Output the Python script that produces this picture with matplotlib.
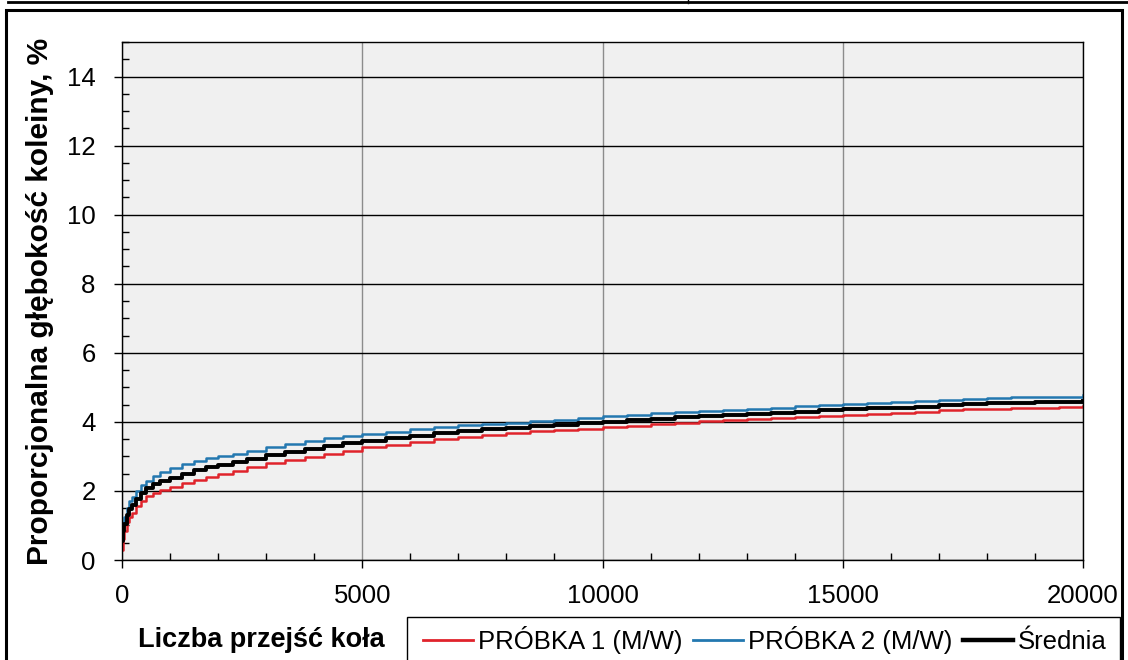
import numpy as np
import matplotlib.pyplot as plt
from matplotlib.ticker import MultipleLocator
from matplotlib.lines import Line2D
from matplotlib.patches import Rectangle

plt.rcParams['font.family'] = ['Liberation Sans', 'DejaVu Sans']

# liczba przejść koła
cycles = [0, 25, 50, 100, 150, 200, 300, 400, 500, 650, 800, 1000, 1250, 1500,
          1750, 2000, 2300, 2600, 3000, 3400, 3800, 4200, 4600, 5000, 5500,
          6000, 6500, 7000, 7500, 8000, 8500, 9000, 9500, 10000, 10500, 11000,
          11500, 12000, 12500, 13000, 13500, 14000, 14500, 15000, 15500, 16000,
          16500, 17000, 17500, 18000, 18500, 19000, 19500, 20000]

# proporcjonalna głębokość koleiny, %
sample1 = [0.30, 0.60, 0.85, 1.10, 1.25, 1.35, 1.55, 1.72, 1.85, 1.95, 2.03,
           2.11, 2.22, 2.32, 2.41, 2.49, 2.58, 2.68, 2.80, 2.90, 2.99, 3.08,
           3.17, 3.26, 3.33, 3.42, 3.50, 3.57, 3.62, 3.68, 3.73, 3.77, 3.80,
           3.84, 3.88, 3.93, 3.97, 4.02, 4.05, 4.08, 4.11, 4.14, 4.17, 4.20,
           4.22, 4.25, 4.28, 4.33, 4.36, 4.38, 4.40, 4.41, 4.42, 4.45]
sample2 = [0.80, 1.05, 1.25, 1.50, 1.70, 1.83, 2.00, 2.18, 2.30, 2.42, 2.55,
           2.66, 2.78, 2.87, 2.94, 3.00, 3.08, 3.16, 3.26, 3.35, 3.45, 3.52,
           3.58, 3.64, 3.70, 3.78, 3.85, 3.90, 3.95, 3.98, 4.02, 4.06, 4.12,
           4.16, 4.20, 4.25, 4.28, 4.31, 4.35, 4.38, 4.41, 4.45, 4.49, 4.53,
           4.56, 4.58, 4.60, 4.63, 4.67, 4.70, 4.71, 4.72, 4.73, 4.77]
mean = [0.55, 0.85, 1.05, 1.30, 1.48, 1.59, 1.78, 1.95, 2.08, 2.19, 2.29,
        2.38, 2.50, 2.60, 2.68, 2.75, 2.83, 2.92, 3.03, 3.13, 3.22, 3.30,
        3.38, 3.45, 3.52, 3.60, 3.68, 3.74, 3.79, 3.83, 3.88, 3.92, 3.96,
        4.00, 4.04, 4.09, 4.13, 4.17, 4.21, 4.23, 4.26, 4.29, 4.33, 4.36,
        4.39, 4.41, 4.43, 4.48, 4.52, 4.54, 4.56, 4.57, 4.58, 4.61]

labels = ["PRÓBKA 1 (M/W)", "PRÓBKA 2 (M/W)", "Średnia"]
colors = ["#e0232b", "#2378b0", "black"]

W, H = 1128, 660
fig = plt.figure(figsize=(W / 100, H / 100), dpi=100)
ax = fig.add_axes([122 / W, 1 - 560 / H, 961 / W, 518 / H])
ax.set_facecolor("#f0f0f0")

ax.plot(cycles, sample1, color=colors[0], lw=1.8, drawstyle="steps-post")
ax.plot(cycles, sample2, color=colors[1], lw=1.8, drawstyle="steps-post")
ax.plot(cycles, mean, color=colors[2], lw=2.8, drawstyle="steps-post")

ax.set_xlim(0, 20000)
ax.set_ylim(0, 15)
ax.xaxis.set_major_locator(MultipleLocator(5000))
ax.xaxis.set_minor_locator(MultipleLocator(1000))
ax.yaxis.set_major_locator(MultipleLocator(2))
ax.yaxis.set_minor_locator(MultipleLocator(0.5))
ax.grid(axis="y", which="major", color="black", lw=1.0)
ax.grid(axis="x", which="major", color="#8c8c8c", lw=1.0)
ax.set_axisbelow(True)
ax.tick_params(which="major", direction="out", length=6, width=1,
               labelsize=18.5)
ax.tick_params(axis="y", which="major", pad=13)
ax.tick_params(axis="x", which="major", pad=11)
ax.tick_params(which="minor", direction="in", length=5, width=1)
for s in ax.spines.values():
    s.set_color("black")
    s.set_linewidth(1.0)

fig.text(48 / W, 1 - 565 / H, "Proporcjonalna głębokość koleiny, %",
         rotation=90, rotation_mode="anchor", ha="left", va="baseline",
         fontsize=21.5, fontweight="bold")
fig.text(138 / W, 1 - 647 / H, "Liczba przejść koła", ha="left",
         va="baseline", fontsize=19.5, fontweight="bold")

# legenda bez ramki, ramka rysowana osobno (ucięta dolną krawędzią)
handles = [Line2D([], [], color=c, lw=2 if c != "black" else 3.2) for c in colors]
leg = fig.legend(handles, labels, ncol=3, loc="upper left",
                 bbox_to_anchor=(423 / W, 1 - 626 / H), frameon=False,
                 fontsize=18.5, handlelength=1.95, handletextpad=0.2,
                 columnspacing=0.4, borderpad=0, borderaxespad=0)
fig.add_artist(Rectangle((407 / W, -0.05), 713 / W, 0.05 + 1 - 617 / H,
                         transform=fig.transFigure, fill=False,
                         edgecolor="black", lw=1.0))

# ramki wokół wykresu
fig.add_artist(Rectangle((6 / W, -0.05), 1116 / W, 1 - 10 / H + 0.05,
                         transform=fig.transFigure, fill=False,
                         edgecolor="black", lw=2.2))
fig.add_artist(Line2D([8 / W, 1], [1 - 2 / H, 1 - 2 / H],
                      transform=fig.transFigure, color="black", lw=2))
fig.add_artist(Line2D([688 / W, 688 / W], [1, 1 - 3 / H],
                      transform=fig.transFigure, color="black", lw=1))

fig.savefig("out.png", dpi=100)
